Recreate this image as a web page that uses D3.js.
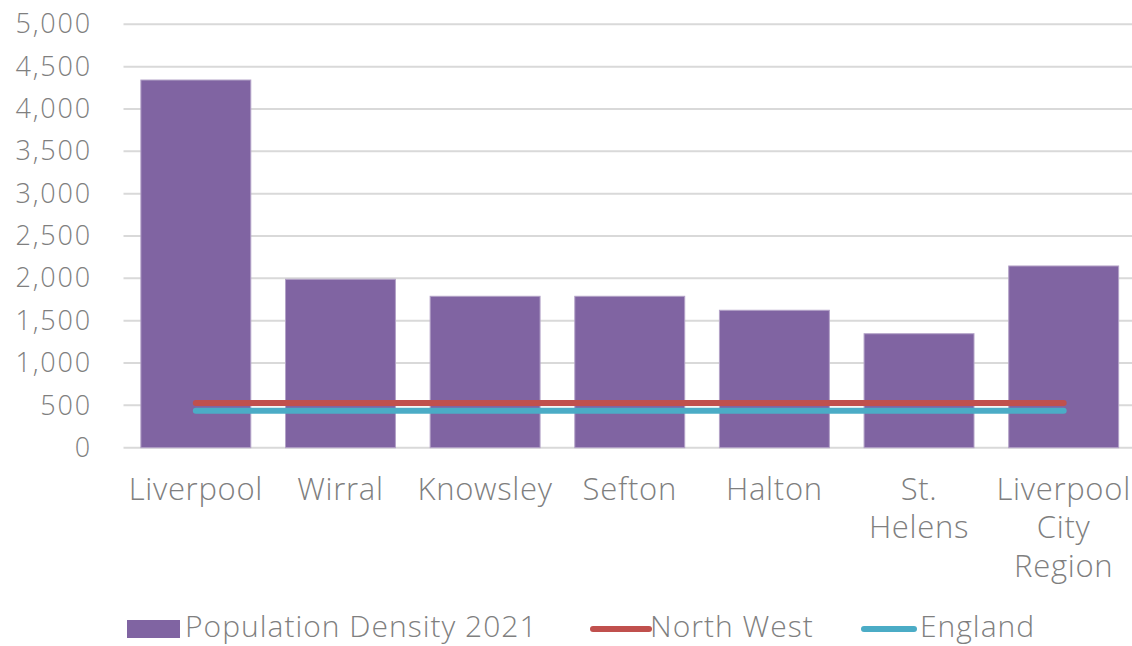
<!DOCTYPE html>
<html>
<head>
<meta charset="utf-8">
<script src="https://cdn.jsdelivr.net/npm/d3@7"></script>
<style>
  body { margin: 0; background: #fff; }
  svg text { font-family: "Open Sans", Lato, sans-serif; font-weight: 300; fill: #7f7f7f; }
</style>
</head>
<body>
<svg id="chart" width="1132" height="646"></svg>
<script>
var categories = [['Liverpool'], ['Wirral'], ['Knowsley'], ['Sefton'], ['Halton'], ['St.', 'Helens'], ['Liverpool', 'City', 'Region']]
var density2021 = [4342, 1989, 1788, 1788, 1623, 1346, 2146]
var northWest = [528, 528, 528, 528, 528, 528, 528]
var england = [437, 437, 437, 437, 437, 437, 437]
var yTicks = [0, 500, 1000, 1500, 2000, 2500, 3000, 3500, 4000, 4500, 5000]

var svg = d3.select('#chart')
var keys = categories.map(c => c.join(' '))

var x = d3.scaleBand()
    .domain(keys)
    .range([123.5, 1136])
    .paddingInner(0.24)
    .paddingOuter(0.12)

var y = d3.scaleLinear()
    .domain([0, 5000])
    .range([447.7, 24.3])

// gridlines
svg.append('g')
    .selectAll('line')
    .data(yTicks)
    .join('line')
    .attr('x1', 123.5)
    .attr('x2', 1132)
    .attr('y1', d => y(d))
    .attr('y2', d => y(d))
    .style('stroke', '#d9d9d9')
    .style('stroke-width', 2)

// y labels
var yAxis = svg.append('g')
    .attr('transform', 'translate(92,0)')
    .call(d3.axisLeft(y).tickValues(yTicks).tickSize(0).tickPadding(0).tickFormat(d3.format(',')))
yAxis.select('.domain').remove()
yAxis.selectAll('text')
    .style('font-size', '27px')
    .style('letter-spacing', '1.8px')
    .attr('font-family', null)
    .attr('fill', null)

// bars
svg.append('g')
    .selectAll('rect')
    .data(density2021)
    .join('rect')
    .attr('x', (d, i) => x(keys[i]))
    .attr('width', x.bandwidth())
    .attr('y', d => y(d))
    .attr('height', d => y(0) - y(d))
    .style('fill', '#8064a2')
    .style('stroke', '#b3a2c7')
    .style('stroke-width', 1)

// lines
var line = d3.line()
    .x((d, i) => x(keys[i]) + x.bandwidth() / 2)
    .y(d => y(d))

svg.append('path')
    .attr('d', line(northWest))
    .style('fill', 'none')
    .style('stroke', '#c0504d')
    .style('stroke-width', 6)
    .style('stroke-linecap', 'round')

svg.append('path')
    .attr('d', line(england))
    .style('fill', 'none')
    .style('stroke', '#4bacc6')
    .style('stroke-width', 6)
    .style('stroke-linecap', 'round')

// x labels
var xl = svg.append('g')
    .selectAll('text')
    .data(categories)
    .join('text')
    .attr('text-anchor', 'middle')
    .style('font-size', '31px')
    .style('letter-spacing', '0.7px')
xl.each(function(d, i) {
    var t = d3.select(this)
    d.forEach((s, j) => {
        t.append('tspan')
            .attr('x', x(keys[i]) + x.bandwidth() / 2)
            .attr('y', 499.5 + j * 38.5)
            .text(s)
    })
})

// legend
var legend = svg.append('g')
    .style('font-size', '30px')
    .style('letter-spacing', '1px')
legend.append('rect')
    .attr('x', 127).attr('y', 620).attr('width', 53).attr('height', 18)
    .style('fill', '#8064a2')
legend.append('text')
    .attr('x', 185).attr('y', 637)
    .text('Population Density 2021')
legend.append('line')
    .attr('x1', 593).attr('x2', 649).attr('y1', 629).attr('y2', 629)
    .style('stroke', '#c0504d').style('stroke-width', 6).style('stroke-linecap', 'round')
legend.append('text')
    .attr('x', 650).attr('y', 637)
    .text('North West')
legend.append('line')
    .attr('x1', 864).attr('x2', 914).attr('y1', 629).attr('y2', 629)
    .style('stroke', '#4bacc6').style('stroke-width', 6).style('stroke-linecap', 'round')
legend.append('text')
    .attr('x', 920).attr('y', 637)
    .text('England')
</script>
</body>
</html>
